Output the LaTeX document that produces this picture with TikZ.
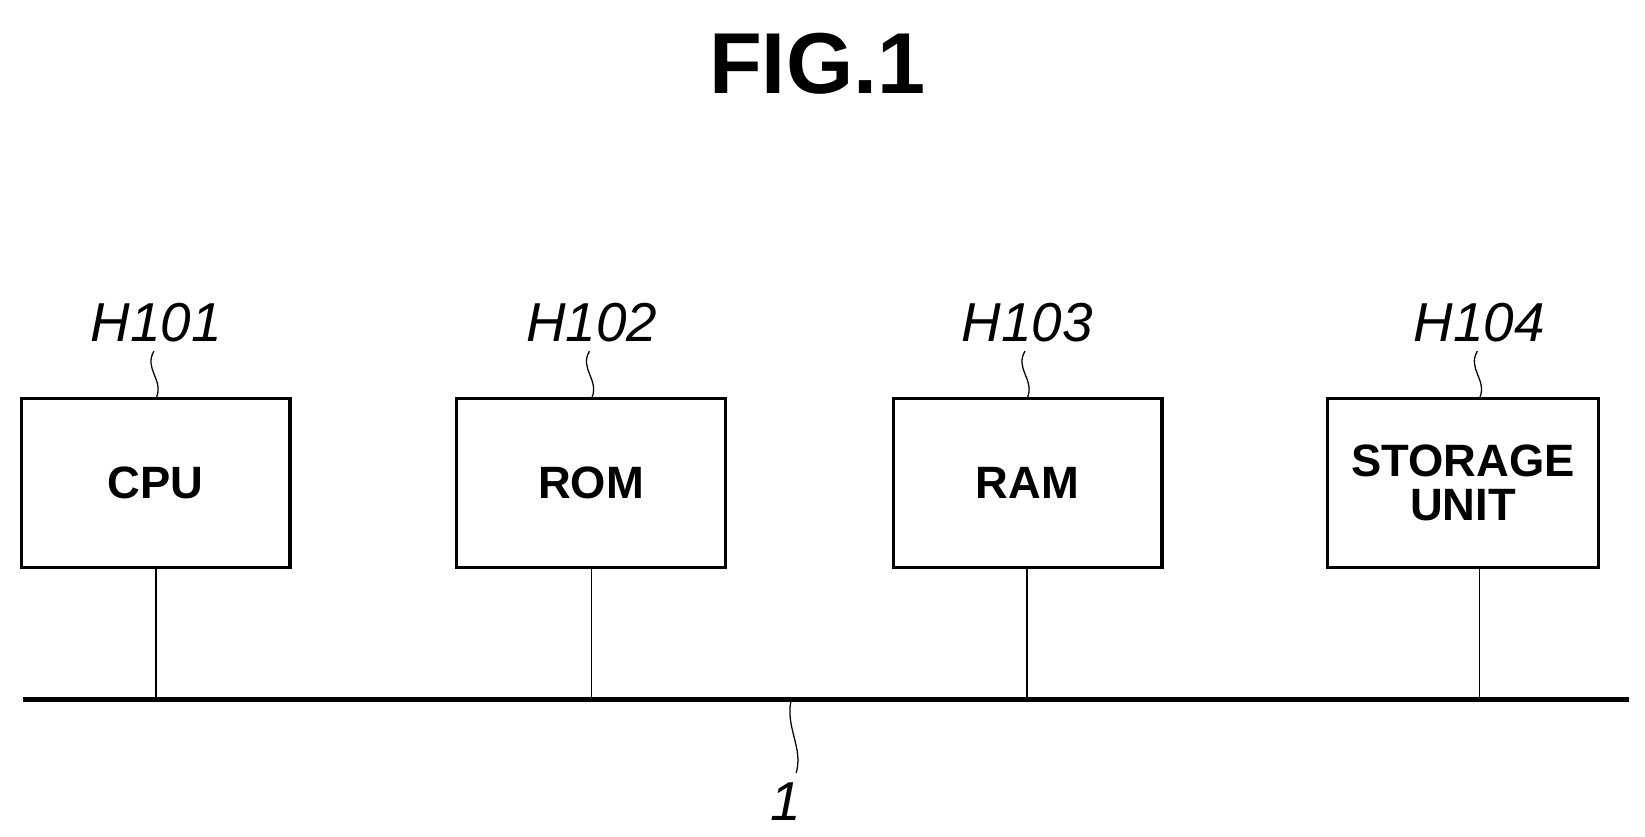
\documentclass[tikz,border=0pt]{standalone}
\usepackage{fontspec}
\setmainfont{Liberation Sans}
\usetikzlibrary{positioning}
\tikzset{
  unit/.style={draw, line width=3pt, minimum width=255pt, minimum height=160pt, inner sep=0pt,
    font=\fontsize{43}{42}\selectfont\bfseries, align=center},
  tag/.style={font=\fontsize{52}{52}\selectfont\itshape},
  stub/.style={line width=1.5pt},
  wave/.style={line width=1.2pt}
}
\begin{document}
\begin{tikzpicture}[x=1pt, y=-1pt]
\useasboundingbox (0,0) rectangle (1560,793);
\node[font=\fontsize{82}{82}\selectfont\bfseries] (title) at (775,60) {FIG.1};

\node[unit] (cpu) at (147.5,458) {CPU};
\node[unit] (rom) at (560.5,458) {ROM};
\node[unit] (ram) at (974.5,458) {RAM};
\node[unit, minimum width=257pt] (sto) at (1387.5,458) {STORAGE\\UNIT};

% bus line
\coordinate (busL) at (22,663);
\coordinate (busR) at (1545,663);
\draw[line width=5pt] (busL) -- (busR);

\foreach \n/\x/\t in {cpu/148/H101, rom/561/H102, ram/974/H103, sto/1403/H104}{
  \coordinate (\n top) at (\x,378);
  \coordinate (\n bus) at (\x,663);
  \draw[stub] (\x,538) -- (\n bus);
  \node[tag] (\n tag) at (\x,306) {\t};
  \draw[wave] (\x-2,333) .. controls (\x-12,350) and (\x+8,360) .. (\n top);
}

% bus label
\node[tag] (buslabel) at (745,760) {1};
\coordinate (bustop) at (750,665);
\draw[wave] (bustop) .. controls (745,690) and (762,710) .. (755,733);
\end{tikzpicture}
\end{document}
